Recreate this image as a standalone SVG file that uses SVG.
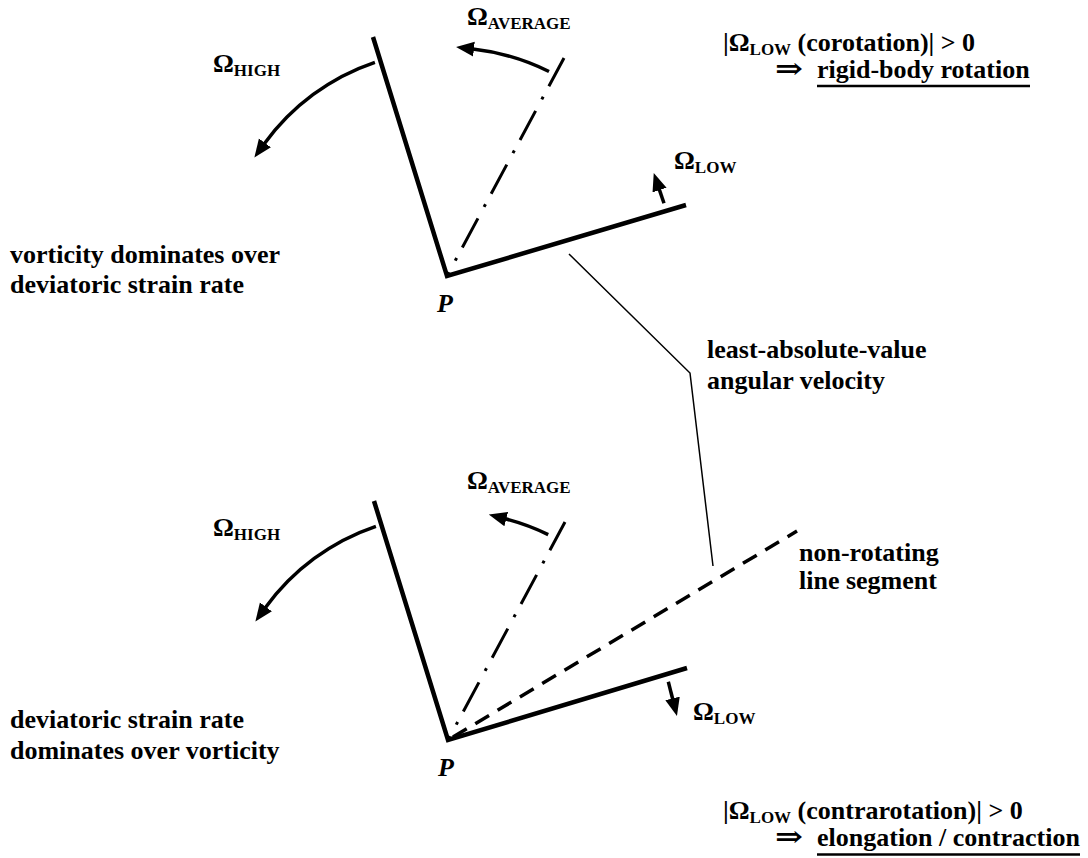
<svg xmlns="http://www.w3.org/2000/svg" width="1088" height="858" viewBox="0 0 1088 858">
<style>
.t{font-family:"Liberation Serif","DejaVu Serif",serif;font-weight:bold;font-size:26px;fill:#000}
.sub{font-size:17px}
.it{font-style:italic}
.arr{font-family:"DejaVu Serif","Liberation Serif",serif;font-weight:bold;font-size:28px;fill:#000}
.seg{fill:none;stroke:#000;stroke-width:4.5;stroke-linejoin:miter;stroke-miterlimit:10}
.avg{fill:none;stroke:#000;stroke-width:3;stroke-dasharray:33 12 3 13;stroke-dashoffset:1}
.dash{fill:none;stroke:#000;stroke-width:3.5;stroke-dasharray:16 10}
.rot{fill:none;stroke:#000;stroke-width:3.5;marker-end:url(#ah)}
.lead{fill:none;stroke:#000;stroke-width:1.5}
.ul{stroke:#000;stroke-width:2.5}
</style>
<defs>
<marker id="ah" markerUnits="userSpaceOnUse" markerWidth="18" markerHeight="16" viewBox="0 0 17 14" refX="1" refY="7" orient="auto">
<path d="M0,0 L17,7 L0,14 z" fill="#000"/>
</marker>
</defs>

<g id="top-figure">
<path class="seg" d="M373,37 L447,276 L686,205"/>
<path class="avg" d="M564,58 L447,276"/>
<path class="rot" d="M374.9,62.3 A225.5,225.5 0 0 0 264.3,143.8"/>
<path class="rot" d="M549,71.5 A228.5,228.5 0 0 0 472.9,49"/>
<path class="rot" d="M664,203.3 L659.2,189.1"/>
</g>

<g id="bottom-figure">
<path class="seg" d="M374,501 L448,740 L687,668"/>
<path class="avg" d="M565,522 L448,740"/>
<path class="dash" d="M453,737 L797,531"/>
<path class="rot" d="M375.9,526.3 A225.5,225.5 0 0 0 265.3,607.8"/>
<path class="rot" d="M548.2,534.6 A228.5,228.5 0 0 0 505.2,518.8"/>
<path class="rot" d="M668.3,681.7 L672.8,699.5"/>
</g>

<g id="connectors">
<path class="lead" d="M569,254 L690,373 L713,566"/>
</g>

<g id="label-top-high"><text class="t" x="213" y="72">Ω<tspan class="sub" dy="4">HIGH</tspan></text></g>
<g id="label-top-average"><text class="t" x="467" y="25">Ω<tspan class="sub" dy="4">AVERAGE</tspan></text></g>
<g id="label-top-low"><text class="t" x="674" y="169">Ω<tspan class="sub" dy="4">LOW</tspan></text></g>
<g id="label-top-p"><text class="t it" x="437" y="312">P</text></g>
<g id="label-top-left">
<text class="t" x="10" y="263">vorticity dominates over</text>
<text class="t" x="10" y="293">deviatoric strain rate</text>
</g>
<g id="label-top-right">
<text class="t" x="723" y="51">|Ω<tspan class="sub" dy="4">LOW</tspan><tspan dy="-4"> (corotation)| &gt; 0</tspan></text>
<text class="arr" transform="translate(775,78) scale(1.2,1)">⇒</text>
<text class="t" x="817" y="78">rigid-body rotation</text>
<line class="ul" x1="817" y1="86" x2="1030" y2="86"/>
</g>
<g id="label-least">
<text class="t" x="707" y="358">least-absolute-value</text>
<text class="t" x="707" y="389">angular velocity</text>
</g>

<g id="label-bottom-high"><text class="t" x="213" y="536">Ω<tspan class="sub" dy="4">HIGH</tspan></text></g>
<g id="label-bottom-average"><text class="t" x="467" y="489">Ω<tspan class="sub" dy="4">AVERAGE</tspan></text></g>
<g id="label-bottom-low"><text class="t" x="693" y="720">Ω<tspan class="sub" dy="4">LOW</tspan></text></g>
<g id="label-bottom-p"><text class="t it" x="438" y="776">P</text></g>
<g id="label-nonrot">
<text class="t" x="799" y="561">non-rotating</text>
<text class="t" x="799" y="589">line segment</text>
</g>
<g id="label-bottom-left">
<text class="t" x="10" y="728">deviatoric strain rate</text>
<text class="t" x="10" y="759">dominates over vorticity</text>
</g>
<g id="label-bottom-right">
<text class="t" x="723" y="819">|Ω<tspan class="sub" dy="4">LOW</tspan><tspan dy="-4"> (contrarotation)| &gt; 0</tspan></text>
<text class="arr" transform="translate(775,846) scale(1.2,1)">⇒</text>
<text class="t" x="817" y="846">elongation / contraction</text>
<line class="ul" x1="817" y1="854.5" x2="1080" y2="854.5"/>
</g>
</svg>
